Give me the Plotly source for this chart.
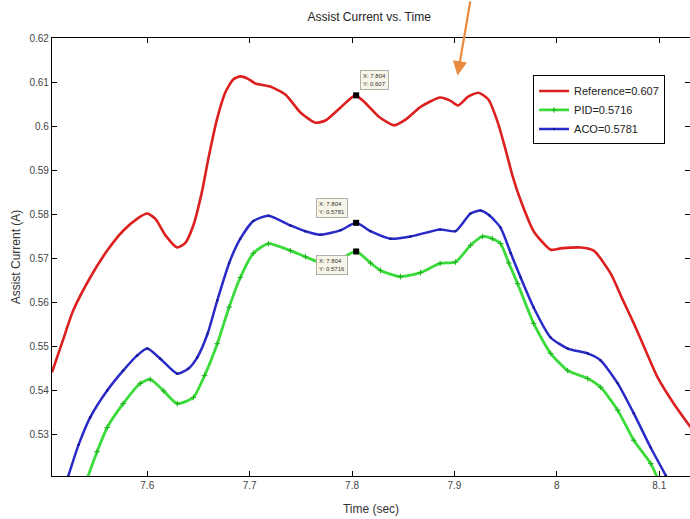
import plotly.graph_objects as go

# ---- data ----
ref_t = [7.507, 7.5177, 7.5277, 7.5443, 7.5609, 7.5765, 7.590, 7.600, 7.608, 7.618, 7.6293,
         7.637, 7.645, 7.6533, 7.6600, 7.6680, 7.6765, 7.6840, 7.6909, 7.698, 7.7055, 7.72,
         7.7349, 7.7496, 7.7642, 7.7740, 7.7886, 7.8031, 7.8120, 7.8265, 7.8412, 7.8529, 7.8676,
         7.886, 7.8958, 7.9036, 7.9134, 7.9236, 7.9333, 7.9421, 7.9490, 7.9570, 7.9646, 7.9773,
         7.9939, 8.0037, 8.0233, 8.036, 8.0526, 8.0640, 8.0751, 8.0870, 8.0985, 8.1142, 8.1308]
ref_v = [0.5442, 0.5515, 0.5582, 0.5657, 0.5718, 0.5763, 0.5790, 0.5802, 0.5790, 0.5752, 0.5725,
         0.5735, 0.5775, 0.5850, 0.5930, 0.6015, 0.6078, 0.6106, 0.6113, 0.6108, 0.6097, 0.6090,
         0.6072, 0.6031, 0.6008, 0.6013, 0.6042, 0.6070, 0.6055, 0.6021, 0.6002, 0.6016, 0.6045,
         0.6065, 0.6058, 0.6047, 0.6067, 0.6076, 0.6060, 0.6010, 0.5955, 0.5885, 0.5832, 0.5762,
         0.5720, 0.5723, 0.5725, 0.5718, 0.5666, 0.5608, 0.5553, 0.5490, 0.5430, 0.5371, 0.5317]

aco_t = [7.5228, 7.5330, 7.5443, 7.5609, 7.5765, 7.590, 7.600, 7.6127, 7.6293, 7.6400, 7.6489,
         7.6590, 7.6684, 7.6800, 7.6909, 7.7036, 7.7183, 7.7398, 7.7544, 7.769, 7.7886, 7.804,
         7.8180, 7.8375, 7.8571, 7.886, 7.901, 7.9157, 7.9255, 7.9340, 7.945, 7.9550, 7.9646,
         7.9773, 7.9939, 8.0106, 8.0301, 8.0428, 8.0594, 8.0751, 8.0917, 8.1064]
aco_v = [0.5206, 0.5278, 0.5340, 0.5401, 0.5446, 0.5480, 0.5496, 0.5473, 0.5439, 0.5450, 0.5476,
         0.5530, 0.5605, 0.5690, 0.5745, 0.5785, 0.5797, 0.5775, 0.5762, 0.5754, 0.5764, 0.5781,
         0.5762, 0.5745, 0.5750, 0.5766, 0.5762, 0.5802, 0.5809, 0.5798, 0.5770, 0.5712, 0.5657,
         0.5589, 0.5521, 0.5496, 0.5485, 0.5469, 0.5417, 0.5349, 0.5271, 0.5208]

pid_t = [7.5413, 7.5510, 7.5609, 7.5765, 7.5932, 7.6029, 7.6160, 7.6293, 7.645, 7.6560, 7.6684,
         7.6800, 7.6909, 7.7036, 7.7183, 7.7398, 7.7544, 7.769, 7.7886, 7.804, 7.8180, 7.8278,
         7.8473, 7.8668, 7.886, 7.901, 7.9157, 7.9274, 7.9370, 7.945, 7.9530, 7.9617, 7.9773,
         7.9939, 8.0106, 8.0301, 8.0428, 8.0594, 8.0751, 8.0917, 8.0985]
pid_v = [0.5201, 0.5262, 0.5317, 0.5371, 0.5417, 0.5426, 0.5400, 0.5371, 0.5385, 0.5435, 0.5507,
         0.5590, 0.5657, 0.5712, 0.5734, 0.5718, 0.5704, 0.5691, 0.5700, 0.5716, 0.5690, 0.5673,
         0.5659, 0.5668, 0.5689, 0.5692, 0.5730, 0.5750, 0.5745, 0.5734, 0.5690, 0.5643, 0.5553,
         0.5485, 0.5446, 0.5428, 0.5408, 0.5356, 0.5288, 0.5235, 0.5201]

series_names = ["Reference=0.607", "PID=0.5716", "ACO=0.5781"]
tip_x = [7.804, 7.804, 7.804]
tip_y = [0.607, 0.5781, 0.5716]
tip_labels = ["X: 7.804<br>Y: 0.607", "X: 7.804<br>Y: 0.5781", "X: 7.804<br>Y: 0.5716"]

x_ticks = [7.6, 7.7, 7.8, 7.9, 8.0, 8.1]
x_ticktext = ["7.6", "7.7", "7.8", "7.9", "8", "8.1"]
y_ticks = [0.53, 0.54, 0.55, 0.56, 0.57, 0.58, 0.59, 0.60, 0.61, 0.62]
y_ticktext = ["0.53", "0.54", "0.55", "0.56", "0.57", "0.58", "0.59", "0.6", "0.61", "0.62"]

FONT = "Liberation Sans, Arimo, Arial, sans-serif"
RED = "#DC2020"
GREEN = "#3ADB3A"
BLUE = "#2A2AC8"

fig = go.Figure()
fig.add_trace(go.Scatter(x=ref_t, y=ref_v, mode="lines", name=series_names[0],
                         line=dict(color=RED, width=2.6, shape="spline", smoothing=0.6)))
fig.add_trace(go.Scatter(x=pid_t, y=pid_v, mode="lines+markers", name=series_names[1],
                         line=dict(color=GREEN, width=2.8, shape="spline", smoothing=0.6),
                         marker=dict(symbol="cross-thin", size=4, line=dict(color="#22B022", width=1))))
fig.add_trace(go.Scatter(x=aco_t, y=aco_v, mode="lines+markers", name=series_names[2],
                         line=dict(color=BLUE, width=2.5, shape="spline", smoothing=0.6),
                         marker=dict(symbol="circle", size=2.5, color="#1A1A90")))
fig.add_trace(go.Scatter(x=tip_x, y=tip_y, mode="markers", showlegend=False,
                         marker=dict(symbol="square", size=6, color="black")))

# data tip boxes
tip_pos = [dict(xanchor="left", yanchor="bottom", xshift=4, yshift=5),
           dict(xanchor="right", yanchor="bottom", xshift=-8, yshift=5),
           dict(xanchor="right", yanchor="top", xshift=-8, yshift=-4)]
for x, y, txt, p in zip(tip_x, tip_y, tip_labels, tip_pos):
    fig.add_annotation(x=x, y=y, xref="x", yref="y", text=txt, showarrow=False,
                       align="left", font=dict(family=FONT, size=6, color="#333"),
                       bgcolor="#F7F5E8", bordercolor="#B0B0A8", borderwidth=1, borderpad=2, **p)

# orange arrow
fig.add_annotation(x=7.903, y=0.6115, xref="x", yref="y", ax=13, ay=-78,
                   showarrow=True, arrowhead=2, arrowsize=1.3, arrowwidth=2.2,
                   arrowcolor="#E98A3F", text="")

axis_common = dict(showline=True, linecolor="black", linewidth=1.2, mirror="ticks",
                   ticks="inside", ticklen=5, tickcolor="black", showgrid=False, zeroline=False,
                   tickfont=dict(family=FONT, size=10, color="#444"))

fig.update_layout(
    width=690, height=519,
    margin=dict(l=52, r=0, t=38, b=43, autoexpand=False),
    paper_bgcolor="white", plot_bgcolor="white",
    title=dict(text="Assist Current vs. Time", x=0.535, xanchor="center", y=0.968, yanchor="middle",
               font=dict(family=FONT, size=12, color="#222")),
    xaxis=dict(range=[7.507, 8.13], tickvals=x_ticks, ticktext=x_ticktext,
               title=dict(text="Time (sec)", font=dict(family=FONT, size=12, color="#333"), standoff=14),
               **axis_common),
    yaxis=dict(range=[0.5207, 0.62], tickvals=y_ticks, ticktext=y_ticktext,
               title=dict(text="Assist Current (A)", font=dict(family=FONT, size=12, color="#333"), standoff=6),
               **axis_common),
    legend=dict(x=0.754, y=0.9145, xanchor="left", yanchor="top", bgcolor="white",
                bordercolor="black", borderwidth=1, itemwidth=30, tracegroupgap=0,
                font=dict(family=FONT, size=11, color="#222")),
    showlegend=True,
)

fig.write_html("out.html", config={"displayModeBar": False},
               post_script="document.body.style.margin='0';document.body.style.overflow='hidden';")
